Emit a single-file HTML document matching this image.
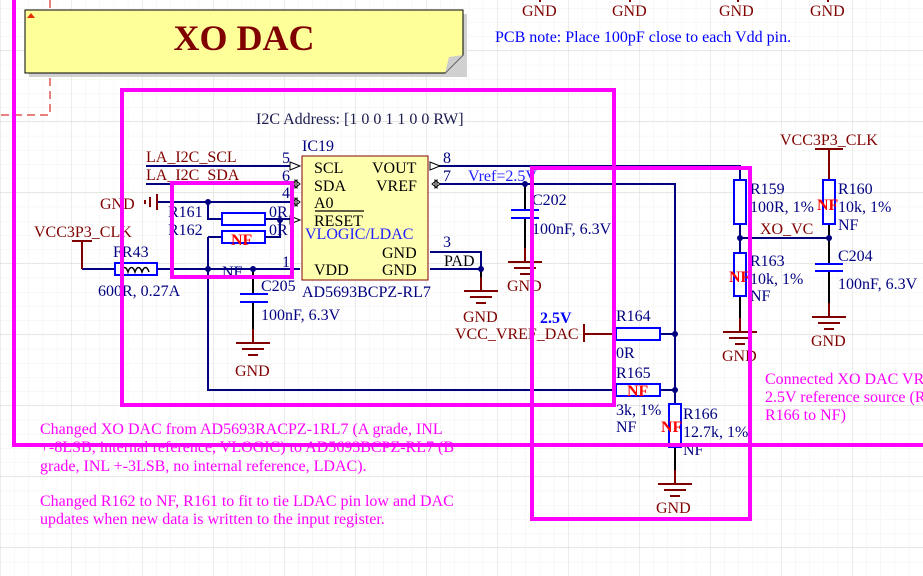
<!DOCTYPE html>
<html><head><meta charset="utf-8"><style>
html,body{margin:0;padding:0;background:#fff;}
svg{display:block;font-family:"Liberation Serif",serif;}
.n{fill:#000080;font-size:16px}
.r{fill:#800000;font-size:16px}
.m{fill:#ff00ff;font-size:16px}
.nf{fill:#ff0000;font-size:16px;font-weight:bold}
</style></head><body>
<svg width="923" height="576" viewBox="0 0 923 576" xmlns="http://www.w3.org/2000/svg">
<defs>
<pattern id="mg" width="14.2" height="14.2" patternUnits="userSpaceOnUse" x="0" y="8">
<path d="M0 0H14.2M0 0V14.2" stroke="#f2f2ee" stroke-width="1" fill="none"/></pattern>
<pattern id="g" width="71" height="71" patternUnits="userSpaceOnUse" x="0" y="50">
<path d="M0 0H71M0 0V71" stroke="#dadad4" stroke-width="1" fill="none"/></pattern>
<g id="gnd" stroke="#800000" stroke-width="2" fill="none"><path d="M0 -14V0M-17 0H17M-11 6H11M-5 12H5"/></g>
</defs>
<rect width="923" height="576" fill="url(#mg)"/>
<rect width="923" height="576" fill="url(#g)"/>

<path d="M50 0V115H0" stroke="#d00000" stroke-width="1" stroke-dasharray="8,5" fill="none"/>
<rect x="29" y="14" width="438" height="63" fill="#d0d0d0"/>
<path d="M25 10H463V55L445 73H25Z" fill="#ffff99" stroke="#000" stroke-width="1"/>
<path d="M463 55L445 73L449 57Z" fill="#ccc"/>
<path d="M27 18L31 13L35 18Z" fill="#e03000"/>
<text x="244" y="50" text-anchor="middle" style="font-size:36px;font-weight:bold;fill:#800000">XO DAC</text>

<text x="495" y="42" style="fill:#0000ff;font-size:16px">PCB note: Place 100pF close to each Vdd pin.</text>
<g class="r"><text x="522" y="16">GND</text><text x="612" y="16">GND</text><text x="719" y="16">GND</text><text x="810" y="16">GND</text></g>
<g stroke="#800000" stroke-width="2"><path d="M540 0V2M630 0V2M738 0V2M828 0V2"/></g>

<text x="256" y="124" style="fill:#1a1a50;font-size:16px">I2C Address: [1 0 0 1 1 0 0 RW]</text>

<g stroke="#000080" stroke-width="2" fill="none">
<path d="M146 166H290M146 184H290M157 202H290"/>
<path d="M208 202V219H222M265 219H290"/>
<path d="M208 237H222M265 237H280V219"/>
<path d="M82 269H115M157 269H300"/>
<path d="M208 237V390H616"/>
<path d="M430 166H740V180"/>
<path d="M440 184H675V447"/>
<path d="M430 252H481V269M430 269H481"/>
<path d="M660 334H675M660 390H675"/>
<path d="M740 224V253M740 238H829"/>
</g>
<g stroke="#800000" stroke-width="2" fill="none">
<path d="M82 241V269M72 241H92"/>
<path d="M157 194V210M150 197V207M145 200V204"/>
<path d="M584 324V342M584 334H616"/>
<path d="M815 149H843M829 149V180"/>
</g>
<g stroke="#000" stroke-width="2" fill="none">
<path d="M253 269V294M253 302V343"/>
<path d="M525 184V210M525 218V258"/>
<path d="M481 269V287"/>
<path d="M675 404V480"/>
<path d="M740 296V328"/>
<path d="M829 224V264M829 271V313"/>
</g>
<use href="#gnd" x="253" y="343"/><use href="#gnd" x="525" y="262"/><use href="#gnd" x="481" y="291"/>
<use href="#gnd" x="675" y="484"/><use href="#gnd" x="740" y="332"/><use href="#gnd" x="829" y="317"/>
<g class="r"><text x="235" y="376">GND</text><text x="507" y="291">GND</text><text x="463" y="322">GND</text><text x="656" y="513">GND</text><text x="722" y="361">GND</text><text x="811" y="346">GND</text><text x="100" y="209">GND</text></g>
<g stroke="#0000ff" stroke-width="2"><path d="M240 294H268M240 302H268M511 210H539M511 218H539M815 264H843M815 271H843"/></g>
<g stroke="#0000ff" stroke-width="2" fill="#fff">
<rect x="222" y="213" width="43" height="12"/><rect x="222" y="231" width="43" height="12"/>
<rect x="115" y="263" width="42" height="12"/>
<rect x="616" y="328" width="44" height="12"/><rect x="616" y="384" width="44" height="12"/>
<rect x="669" y="404" width="12" height="43"/>
<rect x="734" y="180" width="12" height="44"/><rect x="734" y="253" width="12" height="43"/>
<rect x="823" y="180" width="12" height="44"/>
</g>
<path d="M121 272c2-6 5-6 7 0c2-6 5-6 7 0c2-6 5-6 7 0c2-6 5-6 7 0" stroke="#000" stroke-width="1.5" fill="none"/>
<g fill="#000080"><circle cx="208" cy="202" r="3"/><circle cx="208" cy="269" r="3"/><circle cx="253" cy="269" r="3"/><circle cx="280" cy="220" r="3"/><circle cx="525" cy="184" r="3"/><circle cx="481" cy="269" r="3"/><circle cx="675" cy="334" r="3"/><circle cx="675" cy="390" r="3"/><circle cx="740" cy="238" r="3"/><circle cx="829" cy="238" r="3"/></g>
<rect x="302" y="156" width="126" height="124" fill="#ffffb0" stroke="#800000" stroke-width="1"/>
<g fill="#fff" stroke="#000" stroke-width="1">
<path d="M290 162L300 166L290 170Z"/><path d="M292 184L297 180V188ZM300 184L295 180V188Z"/><path d="M292 202L297 198V206ZM300 202L295 198V206Z"/><path d="M290 216L300 220L290 224Z"/>
<path d="M430 162L440 166L430 170Z"/><path d="M432 184L437 180V188ZM440 184L435 180V188Z"/>
</g>
<g class="n"><text x="302" y="151">IC19</text><text x="282" y="163">5</text><text x="282" y="181">6</text><text x="282" y="198">4</text><text x="282" y="267">1</text><text x="443" y="163">8</text><text x="443" y="181">7</text><text x="443" y="247">3</text></g>
<g style="fill:#000;font-size:16px"><text x="314" y="173">SCL</text><text x="314" y="191">SDA</text><text x="314" y="208">A0</text><text x="314" y="226">RESET</text><text x="314" y="275">VDD</text><text x="372" y="173">VOUT</text><text x="376" y="191">VREF</text><text x="382" y="258">GND</text><text x="382" y="275">GND</text><text x="444" y="266">PAD</text></g>
<path d="M315 211H364" stroke="#000" stroke-width="1.2"/>
<text x="305" y="239" style="fill:#2020ff;font-size:16px">VLOGIC/LDAC</text>
<text x="302" y="297" class="n">AD5693BCPZ-RL7</text>
<g class="r"><text x="146" y="162">LA_I2C_SCL</text><text x="146" y="180">LA_I2C_SDA</text><text x="34" y="237">VCC3P3_CLK</text><text x="780" y="145">VCC3P3_CLK</text><text x="455" y="339">VCC_VREF_DAC</text><text x="760" y="234">XO_VC</text></g>
<g class="n">
<text x="168" y="217">R161</text><text x="168" y="235">R162</text><text x="269" y="217">0R</text><text x="269" y="235">0R</text>
<text x="113" y="257">FR43</text><text x="98" y="296">600R, 0.27A</text><text x="222" y="277">NF</text>
<text x="261" y="291">C205</text><text x="261" y="320">100nF, 6.3V</text>
<text x="532" y="205">C202</text><text x="532" y="234">100nF, 6.3V</text>
<text x="616" y="321">R164</text><text x="616" y="358">0R</text>
<text x="616" y="378">R165</text><text x="616" y="415">3k, 1%</text><text x="616" y="432">NF</text>
<text x="683" y="419">R166</text><text x="683" y="437">12.7k, 1%</text><text x="683" y="455">NF</text>
<text x="750" y="194">R159</text><text x="750" y="212">100R, 1%</text>
<text x="750" y="266">R163</text><text x="750" y="284">10k, 1%</text><text x="750" y="301">NF</text>
<text x="838" y="194">R160</text><text x="838" y="212">10k, 1%</text><text x="838" y="230">NF</text>
<text x="838" y="261">C204</text><text x="838" y="289">100nF, 6.3V</text>
</g>
<text x="468" y="181" style="fill:#2020ff;font-size:16px">Vref=2.5V</text>
<text x="540" y="323" style="fill:#0000ff;font-size:16px;font-weight:bold">2.5V</text>
<g class="nf"><text x="231" y="245">NF</text><text x="627" y="396">NF</text><text x="661" y="432">NF</text><text x="729" y="282">NF</text><text x="817" y="210">NF</text></g>
<g class="m"><text x="765" y="384">Connected XO DAC VR</text><text x="765" y="402">2.5V reference source (R</text><text x="765" y="420">R166 to NF)</text>
<text x="40" y="434">Changed XO DAC from AD5693RACPZ-1RL7 (A grade, INL</text>
<text x="40" y="452">+-8LSB, internal reference, VLOGIC) to AD5693BCPZ-RL7 (B</text>
<text x="40" y="471">grade, INL +-3LSB, no internal reference, LDAC).</text>
<text x="40" y="506">Changed R162 to NF, R161 to fit to tie LDAC pin low and DAC</text>
<text x="40" y="524">updates when new data is written to the input register.</text></g>
<g stroke="#ff00ff" stroke-width="4" fill="none">
<path d="M14 0V445H923"/>
<rect x="122" y="90" width="492" height="315"/>
<rect x="532" y="168" width="218" height="351"/>
<rect x="172" y="183" width="120" height="94"/>
</g>
</svg>
</body></html>
